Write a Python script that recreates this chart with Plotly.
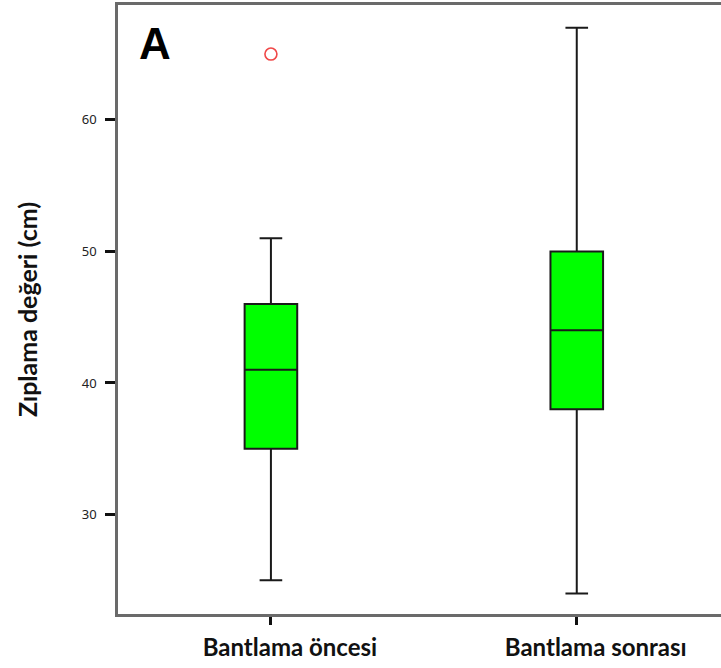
import plotly.graph_objects as go

categories = ["Bantlama öncesi", "Bantlama sonrası"]
q1 = [35, 38]
median = [41, 44]
q3 = [46, 50]
lower_whisker = [25, 24]
upper_whisker = [51, 67]
outlier_cat = ["Bantlama öncesi"]
outlier_val = [65]
y_ticks = [30, 40, 50, 60]

fig = go.Figure()
for i, c in enumerate(categories):
    fig.add_trace(go.Box(
        x=[c], q1=[q1[i]], median=[median[i]], q3=[q3[i]],
        lowerfence=[lower_whisker[i]], upperfence=[upper_whisker[i]],
        fillcolor="#00ff00", line=dict(color="#1a1a1a", width=2),
        width=0.172, whiskerwidth=0.43, boxpoints=False, showlegend=False,
        hoverinfo="skip",
    ))
fig.add_trace(go.Scatter(
    x=outlier_cat, y=outlier_val, mode="markers",
    marker=dict(symbol="circle-open", size=12, color="#f04848", line=dict(width=1.6)),
    showlegend=False,
))

fig.add_annotation(text="<b>A</b>", xref="paper", yref="paper", x=0.0614, y=0.937,
                   xanchor="center", yanchor="middle", showarrow=False,
                   font=dict(family="Liberation Sans, Arial", size=44, color="black"))

fig.update_layout(
    width=721, height=668,
    margin=dict(l=118, r=0, t=5, b=54, autoexpand=False),
    plot_bgcolor="white", paper_bgcolor="white",
    xaxis=dict(type="category", range=[-0.5, 1.4716], showgrid=False,
               showline=True, linecolor="#6a6a6a", linewidth=2.5, mirror=True,
               ticks="outside", ticklen=8, tickwidth=3, tickcolor="#111",
               ticklabelstandoff=2, ticklabelshift=19, automargin=False,
               tickfont=dict(family="Lato, Noto Sans", size=24, color="#111", weight="bold")),
    yaxis=dict(range=[22.44, 68.73], tickvals=y_ticks, showgrid=False, zeroline=False,
               showline=True, linecolor="#6a6a6a", linewidth=2.5, mirror=False,
               ticks="outside", ticklen=10, tickwidth=3, tickcolor="#111",
               ticklabelstandoff=6, automargin=False,
               tickfont=dict(family="Noto Sans, Open Sans", size=13, color="#222"),
               title=dict(text="<b>Zıplama değeri (cm)</b>", standoff=38,
                          font=dict(family="Lato, Noto Sans", size=25, color="#111"))),
)

fig.write_html("out.html", config={"displayModeBar": False},
               post_script="document.body.style.margin='0';")
